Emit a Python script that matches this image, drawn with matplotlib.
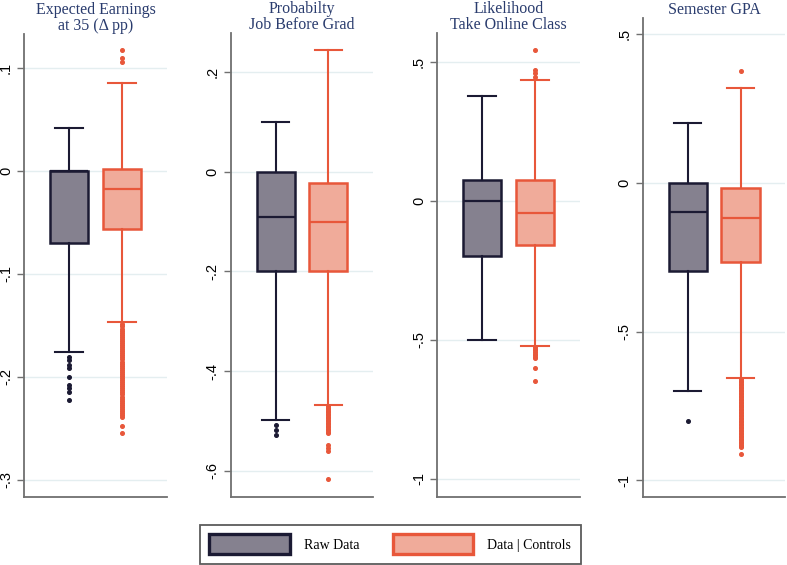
import matplotlib.pyplot as plt
from matplotlib.patches import Patch

plt.rcParams['font.family'] = ['Liberation Serif', 'DejaVu Serif']

# panel titles
titles = ["Expected Earnings\nat 35 (\u0394 pp)", "Probabilty\nJob Before Grad",
          "Likelihood\nTake Online Class", "Semester GPA"]

# raw data boxes (one value per panel)
raw_whishi = [0.042, 0.100, 0.378, 0.202]
raw_q3 = [0.0, 0.0, 0.075, 0.0]
raw_med = [0.0, -0.090, 0.0, -0.098]
raw_q1 = [-0.070, -0.200, -0.198, -0.296]
raw_whislo = [-0.176, -0.498, -0.500, -0.700]
raw_fliers = [
    [-0.181, -0.184, -0.188, -0.191, -0.200, -0.208, -0.211, -0.215, -0.222],
    [-0.508, -0.519, -0.529],
    [],
    [-0.800],
]

# data | controls boxes
ctl_whishi = [0.085, 0.245, 0.435, 0.319]
ctl_q3 = [0.002, -0.022, 0.075, -0.017]
ctl_med = [-0.018, -0.100, -0.043, -0.118]
ctl_q1 = [-0.056, -0.200, -0.158, -0.266]
ctl_whislo = [-0.147, -0.468, -0.522, -0.656]
ctl_fliers = [
    [0.117, 0.110, 0.106,
     -0.149, -0.151, -0.153, -0.155, -0.157, -0.159, -0.161, -0.163, -0.165, -0.167,
     -0.169, -0.171, -0.173, -0.175, -0.177, -0.179, -0.181, -0.183, -0.185, -0.187,
     -0.189, -0.191, -0.193, -0.195, -0.197, -0.199, -0.201, -0.203, -0.205, -0.207,
     -0.209, -0.211, -0.213, -0.215, -0.217, -0.219, -0.221, -0.223, -0.225, -0.227,
     -0.229, -0.231, -0.233, -0.235, -0.237, -0.239, -0.248, -0.254],
    [-0.471, -0.474, -0.477, -0.480, -0.483, -0.486, -0.489, -0.492, -0.495, -0.498,
     -0.501, -0.504, -0.507, -0.510, -0.513, -0.516, -0.519, -0.522, -0.525,
     -0.549, -0.555, -0.561, -0.617],
    [0.543, 0.471, 0.460, 0.446,
     -0.527, -0.533, -0.538, -0.544, -0.549, -0.555, -0.560, -0.565, -0.601, -0.647],
    [0.377,
     -0.660, -0.665, -0.670, -0.675, -0.680, -0.685, -0.690, -0.695, -0.700, -0.705,
     -0.710, -0.715, -0.720, -0.725, -0.730, -0.735, -0.740, -0.745, -0.750, -0.755,
     -0.760, -0.765, -0.770, -0.775, -0.780, -0.785, -0.790, -0.795, -0.800, -0.805,
     -0.810, -0.815, -0.820, -0.825, -0.830, -0.835, -0.840, -0.845, -0.850, -0.855,
     -0.860, -0.865, -0.870, -0.875, -0.880, -0.885, -0.888, -0.912],
]

yticks = [[-0.3, -0.2, -0.1, 0, 0.1], [-0.6, -0.4, -0.2, 0, 0.2],
          [-1, -0.5, 0, 0.5], [-1, -0.5, 0, 0.5]]
ylims = [(-0.3165, 0.133), (-0.653, 0.279), (-1.065, 0.604), (-1.056, 0.555)]

rects = [[0.0305, 0.1204, 0.1817, 0.8195], [0.2935, 0.1204, 0.1804, 0.8212],
         [0.5553, 0.1204, 0.1817, 0.8212], [0.817, 0.1204, 0.181, 0.8476]]

raw_fill, raw_edge = '#85818f', '#1b1a33'
ctl_fill, ctl_edge = '#f0ab9a', '#e8573a'


def stata_lbl(v):
    s = ('%g' % v)
    s = s.replace('0.', '.')
    return s


fig = plt.figure(figsize=(7.87, 5.65), dpi=100)

for i in range(4):
    ax = fig.add_axes(rects[i])
    series = [
        (0.315, raw_q1[i], raw_med[i], raw_q3[i], raw_whislo[i], raw_whishi[i], raw_fliers[i], raw_fill, raw_edge),
        (0.685, ctl_q1[i], ctl_med[i], ctl_q3[i], ctl_whislo[i], ctl_whishi[i], ctl_fliers[i], ctl_fill, ctl_edge),
    ]
    for pos, q1, med, q3, lo, hi, fl, fill, edge in series:
        st = [dict(q1=q1, med=med, q3=q3, whislo=lo, whishi=hi, fliers=fl)]
        ax.bxp(st, positions=[pos], widths=[0.27], capwidths=[0.19],
               patch_artist=True, manage_ticks=False,
               boxprops=dict(facecolor=fill, edgecolor=edge, linewidth=1.8),
               medianprops=dict(color=edge, linewidth=1.6),
               whiskerprops=dict(color=edge, linewidth=1.5),
               capprops=dict(color=edge, linewidth=1.5),
               flierprops=dict(marker='o', markersize=2.6, markerfacecolor=edge,
                               markeredgecolor=edge, linestyle='none'),
               zorder=3)
    ax.set_xlim(0, 1)
    ax.set_ylim(*ylims[i])
    ax.set_yticks(yticks[i])
    ax.set_yticklabels([stata_lbl(v) for v in yticks[i]], rotation=90, va='center',
                       fontsize=10.5, family=['Liberation Sans', 'DejaVu Sans'])
    ax.set_xticks([])
    ax.grid(axis='y', color='#e4eef0', linewidth=1.0, zorder=0)
    ax.set_axisbelow(True)
    for s in ['top', 'right']:
        ax.spines[s].set_visible(False)
    for s in ['left', 'bottom']:
        ax.spines[s].set_color('#707070')
        ax.spines[s].set_linewidth(1.3)
    ax.tick_params(axis='y', length=5, width=1.0, color='#707070', pad=3)
    ax.set_title(titles[i], fontsize=11.5, color='#2a3c6e', pad=3, linespacing=1.0)

handles = [Patch(facecolor=raw_fill, edgecolor=raw_edge, linewidth=2.4),
           Patch(facecolor=ctl_fill, edgecolor=ctl_edge, linewidth=2.4)]
leg = fig.legend(handles, ['Raw Data', 'Data | Controls'], loc='center',
                 bbox_to_anchor=(0.4956, 0.037), ncol=2, fontsize=10,
                 handlelength=5.8, handleheight=1.8, handletextpad=1.0,
                 columnspacing=2.4, borderpad=0.7, fancybox=False)
leg.get_frame().set_edgecolor('#333333')
leg.get_frame().set_linewidth(1.3)

fig.savefig('out.png', dpi=100)
